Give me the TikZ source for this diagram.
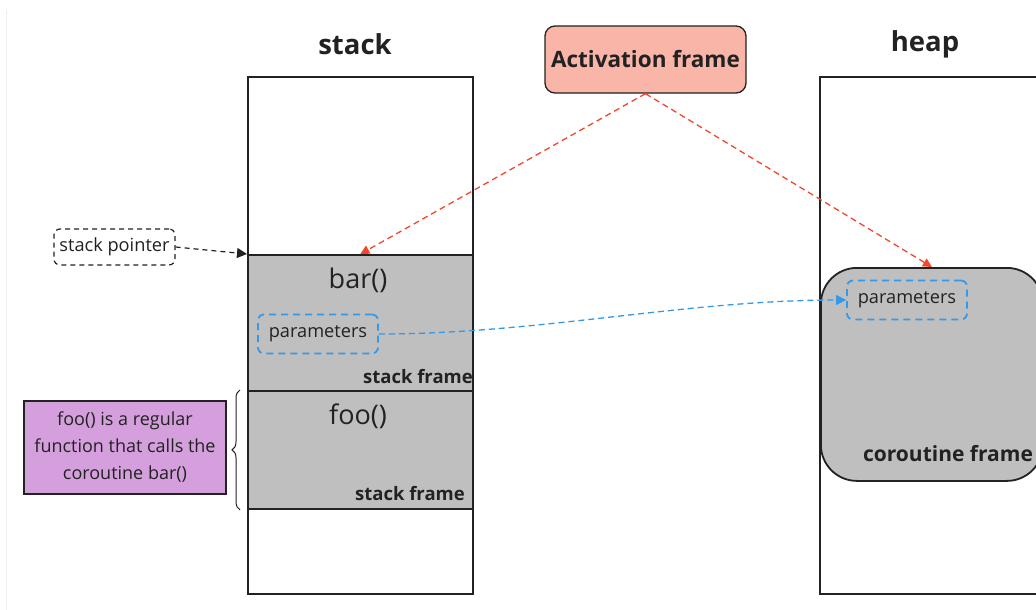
\documentclass[tikz,border=0pt]{standalone}
\usepackage{fontspec}
\setmainfont{Open Sans}
\usetikzlibrary{arrows.meta,decorations.pathreplacing}
\definecolor{ink}{HTML}{222222}
\definecolor{framegray}{HTML}{BFBFBF}
\definecolor{actred}{HTML}{F2472C}
\definecolor{actfill}{HTML}{F8B5A8}
\definecolor{parblue}{HTML}{3399E8}
\definecolor{notefill}{HTML}{D59FDD}
\definecolor{edgegray}{HTML}{EEEEEE}
\tikzset{
  region/.style={draw=ink, line width=1.8pt, inner sep=0pt, anchor=north west},
  sframe/.style={region, fill=framegray},
  title/.style={text=ink, font=\fontsize{27.5}{32}\selectfont\bfseries},
  fname/.style={text=ink, font=\fontsize{27}{30}\selectfont},
  flabel/.style={text=ink, font=\fontsize{18.5}{22}\selectfont\bfseries, inner sep=0pt},
  parbox/.style={draw=parblue, line width=1.8pt, dash pattern=on 7pt off 5pt,
    rounded corners=6pt, text=ink, font=\fontsize{18.2}{21}\selectfont,
    minimum width=120pt, minimum height=39pt, inner sep=0pt},
  redlink/.style={draw=actred, line width=1.3pt, dash pattern=on 6pt off 4pt,
    -{Triangle[length=9pt,width=9pt]}},
  bluelink/.style={draw=parblue, line width=1.3pt, dash pattern=on 6pt off 4pt,
    -{Triangle[length=10pt,width=10pt]}},
}
\begin{document}
\begin{tikzpicture}[x=1pt,y=-1pt]
\useasboundingbox (0,0) rectangle (1036,610);
\clip (0,0) rectangle (1036,610);
\fill[white] (0,0) rectangle (1036,610);
\draw[edgegray, line width=1pt] (6.5,10) -- (6.5,610);

% titles
\node[title] (stacktitle) at (355,44) {stack};
\node[title] (heaptitle) at (925,44) {heap};

% stack and its frames
\node[region, minimum width=225pt, minimum height=517pt] (stack) at (247,76) {};
\node[sframe, minimum width=225pt, minimum height=136pt] (bar) at (247,254) {};
\node[sframe, minimum width=225pt, minimum height=118pt] (foo) at (247,390) {};
\node[fname] (barname) at (358,280) {bar()};
\node[fname] (fooname) at (358,416) {foo()};
\node[flabel, anchor=east] (barlabel) at (473,377) {stack frame};
\node[flabel, anchor=east] (foolabel) at (465,494) {stack frame};
\node[parbox] (bparam) at (318,334) {parameters};

% heap and the coroutine frame
\node[region, minimum width=260pt, minimum height=517pt] (heap) at (819,76) {};
\node[draw=ink, line width=1.8pt, fill=framegray, rounded corners=36pt,
  inner sep=0pt, anchor=north west, minimum width=222pt, minimum height=213pt]
  (corframe) at (820,267) {};
\node[text=ink, font=\fontsize{21}{24}\selectfont\bfseries, inner sep=0pt]
  (corlabel) at (948,454) {coroutine frame};
\node[parbox] (hparam) at (907,300) {parameters};

% activation frame
\node[draw=ink, line width=1.3pt, fill=actfill, rounded corners=10pt,
  minimum width=201pt, minimum height=67pt, inner sep=0pt, text=ink,
  font=\fontsize{22.5}{26}\selectfont\bfseries] (act) at (645.5,59.5) {Activation frame};

% stack pointer
\node[draw=ink, line width=1.2pt, dash pattern=on 5pt off 4pt, rounded corners=6pt,
  minimum width=121pt, minimum height=36pt, inner sep=0pt, text=ink,
  font=\fontsize{18.2}{21}\selectfont] (sp) at (114.5,247) {stack pointer};

% note on foo()
\node[draw=ink, line width=1.8pt, fill=notefill, minimum width=202pt, minimum height=93pt,
  inner sep=0pt, text=ink, align=center, font=\fontsize{18}{27}\selectfont]
  (note) at (125,447.5) {foo() is a regular\\function that calls the\\coroutine bar()};
\draw[ink, line width=1pt, decorate, decoration={brace, amplitude=8pt}]
  (foo.south west) ++(-7,0) coordinate (bracelow) -- (bracelow |- foo.north west);

% connectors
\draw[draw=ink, line width=1.2pt, dash pattern=on 5pt off 4pt,
  -{Triangle[length=10pt,width=10pt]}] (sp.east) -- (bar.north west);
\draw[redlink] (act.south) -- (bar.north);
\draw[redlink] (act.south) -- (corframe.north);
\draw[bluelink] (bparam.east) .. controls +(160,0) and +(-160,0) .. (hparam.west);
\end{tikzpicture}
\end{document}
